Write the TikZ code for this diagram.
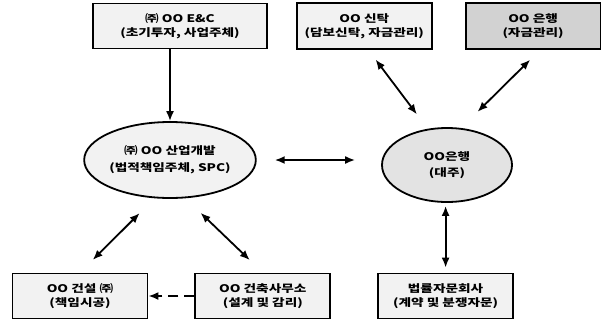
\documentclass[tikz,border=0pt]{standalone}
\usepackage{fontspec}
\setmainfont{Noto Sans CJK KR}[FakeStretch=1.3]
\usepackage{tikz}
\usetikzlibrary{shapes,arrows,arrows.meta,positioning}
\tikzstyle{box} = [rectangle, draw=black, line width=1.8pt, fill=gray!10, text=black, align=center, font=\bfseries\fontsize{10.5}{14}\selectfont, minimum width=135pt, minimum height=45pt, inner sep=2pt]
\tikzstyle{darkbox} = [box, fill=gray!35]
\tikzstyle{party} = [ellipse, draw=black, line width=1.8pt, fill=gray!10, text=black, align=center, font=\bfseries\fontsize{10.5}{14}\selectfont, minimum width=124pt, minimum height=76pt, inner sep=0pt]
\tikzstyle{party2} = [party, fill=gray!22, minimum width=130pt, minimum height=74pt]
\tikzstyle{tedge} = [draw, line width=1.8pt, >={Latex[length=10pt,width=8pt]}, <->]

\begin{document}
\begin{tikzpicture}
\useasboundingbox (0,0) rectangle (601pt,-327pt);

% boxes top =============================
\node[box, minimum width=174pt] (eandc) at (180pt,-26pt) {㈜ OO E\&C\\(초기투자, 사업주체)};
\node[box, right=28pt of eandc, minimum height=46pt] (trust) {OO 신탁\\(담보신탁, 자금관리)};
\node[darkbox, right=32pt of trust, minimum height=46pt] (bank) {OO 은행\\(자금관리)};

% parties
\node[party] (spc) at (170pt,-160pt) {㈜ OO 산업개발\\[3pt](법적책임주체, SPC)};
\node[party2] (lender) at (447pt,-165pt) {OO은행\\[2pt](대주)};

% boxes bottom
\node[box] (builder) at (80pt,-296pt) {OO 건설 ㈜\\(책임시공)};
\node[box, right=46pt of builder] (architect) {OO 건축사무소\\(설계 및 감리)};
\node[box, right=46pt of architect] (lawfirm) {법률자문회사\\(계약 및 분쟁자문)};

%edges
\path[tedge, ->] (eandc.south -| spc.north) -- (spc.north);
\path[tedge, shorten <=18pt, shorten >=26pt] (spc.east) -- (spc.east -| lender.west);
\path[tedge, shorten <=12pt, shorten >=18pt] ([xshift=4pt]trust.south) -- (lender.118);
\path[tedge, shorten <=14pt, shorten >=23pt] ([xshift=7pt]bank.south) -- (lender.69);
\path[tedge, shorten <=3pt, shorten >=5pt] (lawfirm.north |- lender.south) -- (lawfirm.north);
\path[tedge, shorten <=21pt, shorten >=18pt] (spc.248) -- (builder.north);
\path[tedge, shorten <=21pt, shorten >=18pt] (spc.292) -- (architect.north);
\path[tedge, ->, dashed, dash pattern=on 10pt off 6pt] (architect.west) -- (builder.east);

\end{tikzpicture}
\end{document}
